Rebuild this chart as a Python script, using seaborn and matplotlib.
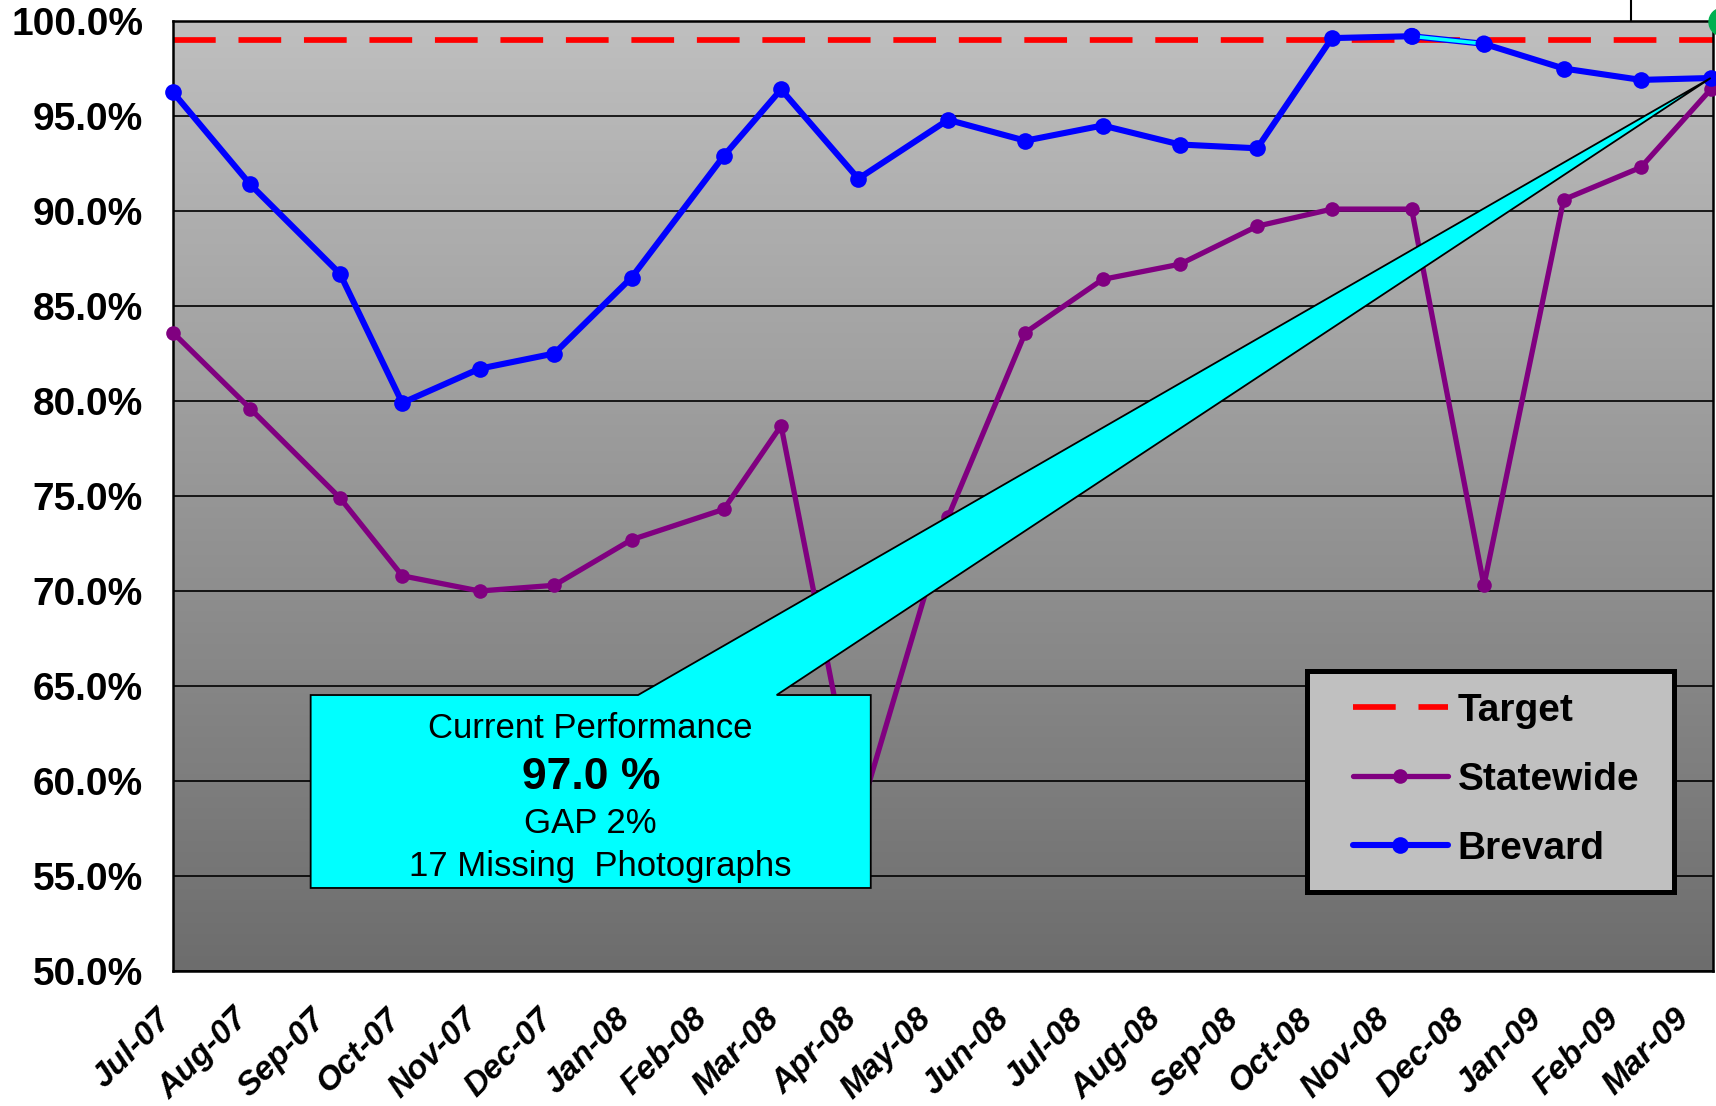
import numpy as np
import pandas as pd
import matplotlib
matplotlib.use("Agg")
import matplotlib.pyplot as plt
import matplotlib.dates as mdates
from matplotlib.colors import LinearSegmentedColormap
from matplotlib.patches import Polygon, Rectangle, Circle
from matplotlib.lines import Line2D
from matplotlib.ticker import FixedLocator, FuncFormatter
import seaborn as sns

# ---- data -------------------------------------------------------------
report_dates = ["2007-07-01", "2007-08-01", "2007-09-06", "2007-10-01",
                "2007-11-01", "2007-12-01", "2008-01-01", "2008-02-07",
                "2008-03-01", "2008-04-01", "2008-05-07", "2008-06-07",
                "2008-07-08", "2008-08-08", "2008-09-08", "2008-10-08",
                "2008-11-09", "2008-12-08", "2009-01-09", "2009-02-09",
                "2009-03-09"]
brevard = [96.25, 91.4, 86.7, 79.9, 81.7, 82.5, 86.5, 92.9, 96.4, 91.7,
           94.8, 93.7, 94.5, 93.5, 93.3, 99.1, 99.2, 98.8, 97.5, 96.9, 97.0]
statewide = [83.6, 79.6, 74.9, 70.8, 70.0, 70.3, 72.7, 74.3, 78.7, 58.0,
             73.9, 83.6, 86.4, 87.2, 89.2, 90.1, 90.1, 70.3, 90.6, 92.3, 96.4]
target = 99.0
missing_photos = 17
y_ticks = [50, 55, 60, 65, 70, 75, 80, 85, 90, 95, 100]

df = pd.DataFrame({"date": pd.to_datetime(report_dates),
                   "Brevard": brevard, "Statewide": statewide})

# ---- style ------------------------------------------------------------
sns.set_style("white")
plt.rcParams["font.family"] = ["Liberation Sans", "DejaVu Sans"]
plt.rcParams["text.color"] = "black"
plt.rcParams["xtick.color"] = "black"
plt.rcParams["ytick.color"] = "black"
plt.rcParams["axes.labelcolor"] = "black"

BLUE, PURPLE, RED, CYAN = "#0000FF", "#800080", "#FF0000", "#00FFFF"
BLUE_LW, BLUE_MS = 4.4, 12
PURP_LW, PURP_MS = 3.8, 10.5

fig = plt.figure(figsize=(17.16, 11.06), dpi=100)
ax = fig.add_axes([0.1008, 0.12206, 0.89745, 0.85895])

# vertical grey gradient behind the plot
grad_cmap = LinearSegmentedColormap.from_list("bg", ["#6D6D6D", "#BFBFBF"])
ax.imshow(np.linspace(0, 1, 256).reshape(-1, 1), cmap=grad_cmap, origin="lower",
          extent=[0, 1, 0, 1], transform=ax.transAxes, aspect="auto", zorder=-2)

# ---- series -----------------------------------------------------------
ax.axhline(target, color=RED, lw=4.1, dashes=(7.5, 4), zorder=2.5)

sns.lineplot(data=df, x="date", y="Statewide", ax=ax, color=PURPLE, lw=PURP_LW,
             marker="o", markersize=PURP_MS, markeredgewidth=0, clip_on=False,
             zorder=3, legend=False)
sns.lineplot(data=df, x="date", y="Brevard", ax=ax, color=BLUE, lw=BLUE_LW,
             marker="o", markersize=BLUE_MS, markeredgewidth=0, clip_on=False,
             zorder=3.1, legend=False)
seg = df.iloc[16:18]
sns.lineplot(data=seg, x="date", y="Brevard", ax=ax, color=CYAN, lw=2.6,
             zorder=3.2, legend=False)
sns.scatterplot(data=seg, x="date", y="Brevard", ax=ax, color=BLUE,
                s=BLUE_MS ** 2, edgecolor="none", zorder=3.3, legend=False)

# ---- axes -------------------------------------------------------------
x_start = pd.Timestamp("2007-07-01")
x_end = pd.Timestamp("2009-03-09 22:00")
ax.set_xlim(x_start, x_end)
ax.set_ylim(50, 100)
ax.set_xlabel("")
ax.set_ylabel("")

ax.yaxis.set_major_locator(FixedLocator(y_ticks))
ax.yaxis.set_major_formatter(FuncFormatter(lambda v, p: f"{v:.1f}%"))
ax.xaxis.set_major_locator(mdates.MonthLocator())
ax.xaxis.set_major_formatter(mdates.DateFormatter("%b-%y"))

ax.set_axisbelow(True)
ax.yaxis.grid(True, color="black", lw=1.2)
ax.xaxis.grid(False)
for sp in ax.spines.values():
    sp.set_visible(True)
    sp.set_color("black")
    sp.set_linewidth(1.8)

ax.tick_params(axis="both", direction="out", length=6.5, width=1.6,
               color="black", labelcolor="black")
ax.tick_params(axis="y", pad=15, labelsize=28)
ax.tick_params(axis="x", pad=29, labelsize=24)
for lab in ax.get_yticklabels():
    lab.set_fontweight("bold")
for lab in ax.get_xticklabels():
    lab.set_fontweight("bold")
    lab.set_fontstyle("italic")
    lab.set_rotation(45)
    lab.set_ha("right")
    lab.set_va("baseline")
    lab.set_rotation_mode("anchor")

# ---- callout ----------------------------------------------------------
tip_disp = ax.transData.transform((mdates.date2num(df["date"].iloc[-1]), brevard[-1]))
tip = ax.transAxes.inverted().transform(tip_disp)
bx0, bx1, by0, by1 = 0.0894, 0.4531, 0.0874, 0.2905
wx0, wx1 = 0.302, 0.392
callout = Polygon([(bx0, by0), (bx1, by0), (bx1, by1), (wx1, by1), tuple(tip),
                   (wx0, by1), (bx0, by1)], closed=True, transform=ax.transAxes,
                  facecolor=CYAN, edgecolor="black", lw=1.3, zorder=4,
                  clip_on=False)
ax.add_patch(callout)
cx = (bx0 + bx1) / 2
gap = target - brevard[-1]
ax.text(cx, 0.2555, "Current Performance", transform=ax.transAxes, ha="center",
        va="center", fontsize=25, zorder=4.5)
ax.text(cx, 0.2035, f"{brevard[-1]:.1f} %", transform=ax.transAxes, ha="center",
        va="center", fontsize=32, fontweight="bold", zorder=4.5)
ax.text(cx, 0.155, f"GAP {gap:.0f}%", transform=ax.transAxes, ha="center",
        va="center", fontsize=25, zorder=4.5)
ax.text(cx + 0.0065, 0.1105, f"{missing_photos} Missing  Photographs",
        transform=ax.transAxes, ha="center", va="center", fontsize=25, zorder=4.5)

# ---- legend -----------------------------------------------------------
ax.add_patch(Rectangle((0.7364, 0.0832), 0.2383, 0.2326, transform=ax.transAxes,
                       facecolor="#C0C0C0", edgecolor="black", lw=3.6,
                       zorder=4.8, clip_on=False))
handles = [
    Line2D([], [], color=RED, lw=4.1, dashes=(7.5, 4)),
    Line2D([], [], color=PURPLE, lw=PURP_LW, marker="o", markersize=PURP_MS,
           markeredgewidth=0),
    Line2D([], [], color=BLUE, lw=BLUE_LW, marker="o", markersize=BLUE_MS,
           markeredgewidth=0),
]
leg = ax.legend(handles, ["Target", "Statewide", "Brevard"], loc="upper left",
                bbox_to_anchor=(0.766, 0.293), frameon=False, borderaxespad=0,
                borderpad=0, handlelength=2.45, handletextpad=0.25,
                labelspacing=0.85, prop={"size": 28, "weight": "bold"})
leg.set_zorder(5)

# ---- slide remnants above the plot -----------------------------------
fig.add_artist(Line2D([1631 / 1716] * 2, [1.0, 0.981], transform=fig.transFigure,
                      color="black", lw=1.5))
fig.add_artist(Circle((17.23, 11.06 - 0.22), 0.14, transform=fig.dpi_scale_trans,
                      color="#00B050", clip_on=False))

fig.savefig("out.png", dpi=100)
